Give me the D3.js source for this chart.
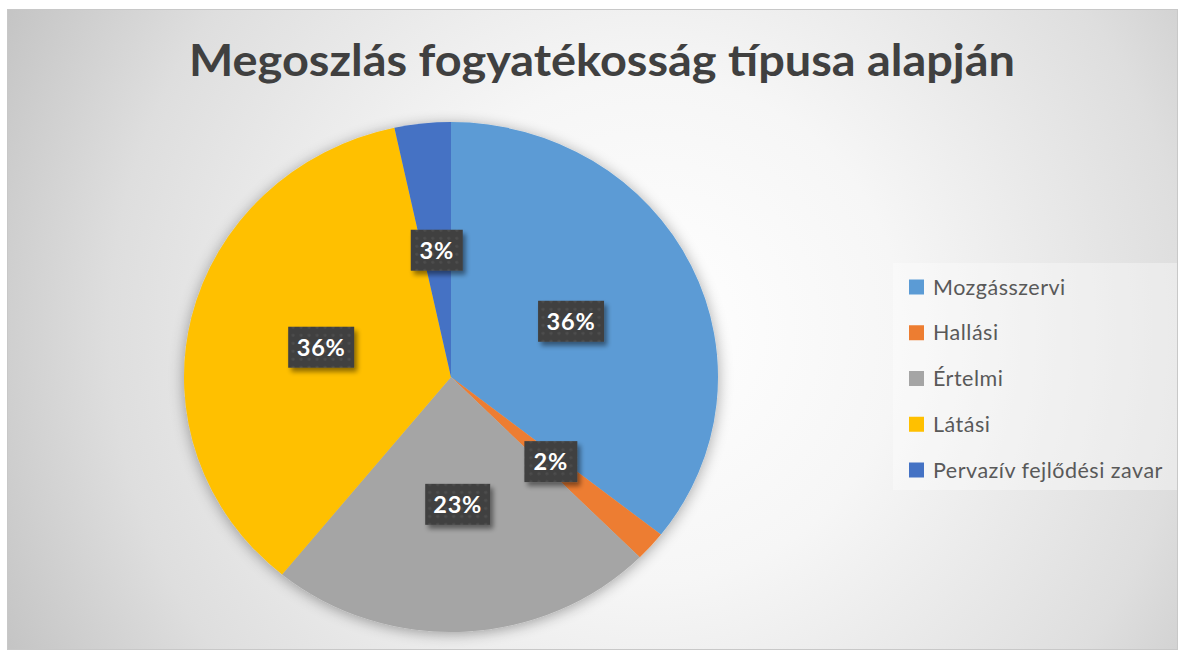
<!DOCTYPE html>
<html lang="hu">
<head>
<meta charset="UTF-8">
<title>Megoszlás fogyatékosság típusa alapján</title>
<style>
  body { margin: 0; background: #fff; }
  svg { display: block; }
</style>
</head>
<body>
<svg></svg>
<script src="https://d3js.org/d3.v7.min.js"></script>
<script>
// adatok
var categories = ["Mozgásszervi", "Hallási", "Értelmi", "Látási", "Pervazív fejlődési zavar"];
var values = [35.6, 1.9, 23.4, 35.7, 3.4];
var colors = ["#5B9BD5", "#ED7D31", "#A5A5A5", "#FFC000", "#4472C4"];
var title = "Megoszlás fogyatékosság típusa alapján";

var width = 1181, height = 655;
var svg = d3.select("svg").attr("width", width).attr("height", height);
var defs = svg.append("defs");

// háttér gradiens
var bg = defs.append("radialGradient").attr("id", "bg")
  .attr("gradientUnits", "userSpaceOnUse")
  .attr("cx", 650).attr("cy", 330).attr("r", 720);
bg.append("stop").attr("offset", "0%").attr("stop-color", "#ffffff");
bg.append("stop").attr("offset", "35%").attr("stop-color", "#f6f6f6");
bg.append("stop").attr("offset", "75%").attr("stop-color", "#dedede");
bg.append("stop").attr("offset", "100%").attr("stop-color", "#c4c4c4");

var pieShadow = defs.append("filter").attr("id", "pieShadow")
  .attr("x", "-20%").attr("y", "-20%").attr("width", "140%").attr("height", "140%");
pieShadow.append("feGaussianBlur").attr("in", "SourceAlpha").attr("stdDeviation", 7).attr("result", "b");
pieShadow.append("feOffset").attr("in", "b").attr("dx", 0).attr("dy", 2).attr("result", "o");
pieShadow.append("feComponentTransfer").attr("in", "o").attr("result", "s")
  .append("feFuncA").attr("type", "linear").attr("slope", 0.35);
var m1 = pieShadow.append("feMerge");
m1.append("feMergeNode").attr("in", "s");
m1.append("feMergeNode").attr("in", "SourceGraphic");

var boxShadow = defs.append("filter").attr("id", "boxShadow")
  .attr("x", "-30%").attr("y", "-30%").attr("width", "160%").attr("height", "170%");
boxShadow.append("feGaussianBlur").attr("in", "SourceAlpha").attr("stdDeviation", 2.5).attr("result", "b");
boxShadow.append("feOffset").attr("in", "b").attr("dx", 3).attr("dy", 4).attr("result", "o");
boxShadow.append("feComponentTransfer").attr("in", "o").attr("result", "s")
  .append("feFuncA").attr("type", "linear").attr("slope", 0.45);
var m2 = boxShadow.append("feMerge");
m2.append("feMergeNode").attr("in", "s");
m2.append("feMergeNode").attr("in", "SourceGraphic");

// pöttyös minta a címkékhez
var pat = defs.append("pattern").attr("id", "dots")
  .attr("width", 8).attr("height", 8).attr("patternUnits", "userSpaceOnUse");
pat.append("rect").attr("width", 8).attr("height", 8).attr("fill", "#404040");
pat.append("circle").attr("cx", 4).attr("cy", 4).attr("r", 1.6).attr("fill", "#4d4d4d");

// diagram terület
svg.append("rect")
  .attr("x", 7.5).attr("y", 9.5).attr("width", 1170).attr("height", 640)
  .attr("fill", "url(#bg)").attr("stroke", "#c8c8c8").attr("stroke-width", 1);

svg.append("text")
  .attr("x", 602).attr("y", 76)
  .attr("text-anchor", "middle")
  .attr("font-family", "Lato, 'Open Sans', sans-serif")
  .attr("font-weight", "bold")
  .attr("font-size", 44)
  .attr("fill", "#404040")
  .attr("textLength", 826)
  .attr("lengthAdjust", "spacingAndGlyphs")
  .text(title);

// torta
var cx = 451, cy = 377, ry = 255, rx = 267;
var sx = rx / ry;

var pie = d3.pie().sort(null).value(function(d){ return d; });
var arcs = pie(values);
var total = d3.sum(values);
var arc = d3.arc().innerRadius(0).outerRadius(ry);
var labelArc = d3.arc().innerRadius(0).outerRadius(ry);

var g = svg.append("g")
  .attr("transform", "translate(" + cx + "," + cy + ") scale(" + sx + ",1)")
  .attr("filter", "url(#pieShadow)");

g.selectAll("path")
  .data(arcs)
  .enter()
  .append("path")
  .attr("d", arc)
  .attr("fill", function(d, i){ return colors[i]; });

// címkék
var widths = [66, 53, 65, 66, 52];
var lab = svg.append("g").selectAll("g")
  .data(arcs)
  .enter()
  .append("g")
  .attr("transform", function(d){
    var c = labelArc.centroid(d);
    return "translate(" + (cx + c[0] * sx) + "," + (cy + c[1]) + ")";
  });

lab.append("rect")
  .attr("x", function(d, i){ return -widths[i] / 2; })
  .attr("y", -20.5)
  .attr("width", function(d, i){ return widths[i]; })
  .attr("height", 41)
  .attr("fill", "url(#dots)")
  .attr("filter", "url(#boxShadow)");

lab.append("text")
  .attr("text-anchor", "middle")
  .attr("dy", 8.5)
  .attr("font-family", "Lato, 'Open Sans', sans-serif")
  .attr("font-weight", "bold")
  .attr("font-size", 23.5)
  .attr("letter-spacing", 0.8)
  .attr("fill", "#ffffff")
  .text(function(d){ return Math.round(d.value / total * 100) + "%"; });

// jelmagyarázat
var legend = svg.append("g");
legend.append("rect")
  .attr("x", 893).attr("y", 263).attr("width", 284).attr("height", 227)
  .attr("fill", "#ffffff").attr("fill-opacity", 0.35);

var ly = d3.scalePoint().domain(categories).range([287, 470]);

var items = legend.selectAll("g.item")
  .data(categories)
  .enter()
  .append("g")
  .attr("class", "item")
  .attr("transform", function(d){ return "translate(909," + ly(d) + ")"; });

items.append("rect")
  .attr("x", 0).attr("y", -7.5)
  .attr("width", 15).attr("height", 15)
  .attr("fill", function(d, i){ return colors[i]; });

items.append("text")
  .attr("x", 24).attr("dy", 7.5)
  .attr("font-family", "Lato, 'Open Sans', sans-serif")
  .attr("font-size", 21.5)
  .attr("letter-spacing", 0.5)
  .attr("fill", "#595959")
  .text(function(d){ return d; });
</script>
</body>
</html>
